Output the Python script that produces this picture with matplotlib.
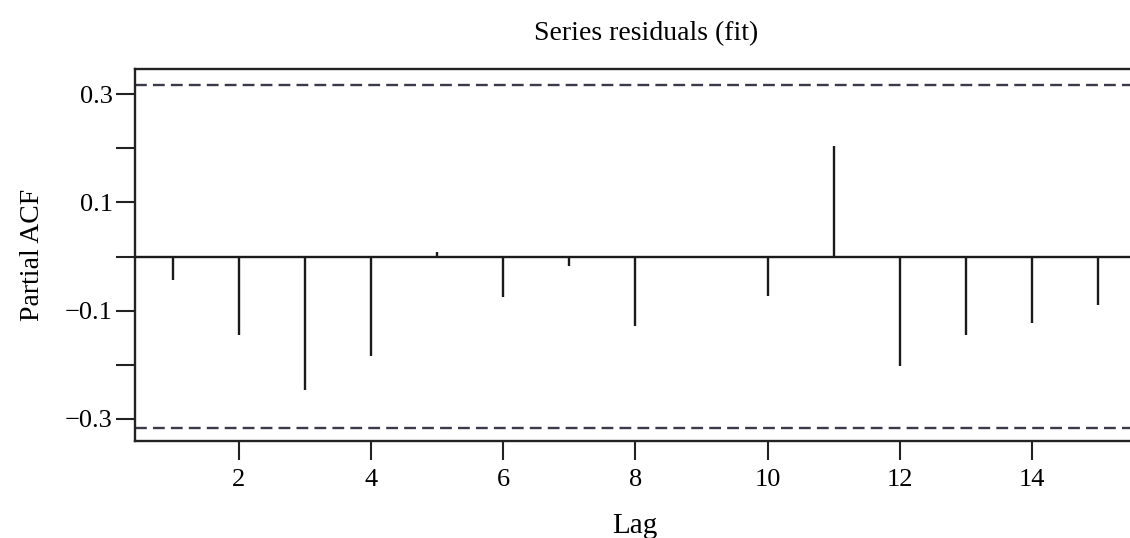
import matplotlib.pyplot as plt

plt.rcParams["font.family"] = ["Liberation Serif", "DejaVu Serif"]

# PACF values
lags = [1, 2, 3, 4, 5, 6, 7, 8, 9, 10, 11, 12, 13, 14, 15]
pacf = [-0.043, -0.145, -0.246, -0.184, 0.008, -0.074, -0.018, -0.128, 0.0,
        -0.073, 0.204, -0.203, -0.145, -0.123, -0.090]
ci = 0.317
yticks = [-0.3, -0.2, -0.1, 0.0, 0.1, 0.2, 0.3]
ytick_labels = ["\u22120.3", "", "\u22120.1", "", "0.1", "", "0.3"]
xticks = [2, 4, 6, 8, 10, 12, 14]

fig = plt.figure(figsize=(11.3, 5.38), dpi=100)
ax = fig.add_axes([0.1195, 0.180, 0.885, 0.6915])

ax.vlines(lags, 0, pacf, colors="#1a1a1a", linewidth=1.7)
ax.axhline(0, color="#1a1a1a", linewidth=1.7)
ax.axhline(ci, color="#3a3a4a", linewidth=1.7, linestyle=(0, (5, 2.6)))
ax.axhline(-ci, color="#3a3a4a", linewidth=1.7, linestyle=(0, (5, 2.6)))

ax.set_xlim(0.43, 15.56)
ax.set_ylim(-0.341, 0.346)
ax.set_yticks(yticks)
ax.set_yticklabels(ytick_labels)
ax.set_xticks(xticks)
ax.tick_params(axis="both", length=14, width=1.5, labelsize=19, color="#222222")
ax.tick_params(axis="y", pad=2)
ax.tick_params(axis="x", pad=6)

for s in ax.spines.values():
    s.set_linewidth(1.7)
    s.set_color("#222222")
ax.spines["right"].set_visible(False)

ax.set_xlabel("Lag", fontsize=21, labelpad=16)
ax.set_ylabel("Partial ACF", fontsize=20, labelpad=14)
fig.text(0.572, 0.938, "Series residuals (fit)", ha="center", va="center", fontsize=20)

fig.savefig("out.png", dpi=100)
